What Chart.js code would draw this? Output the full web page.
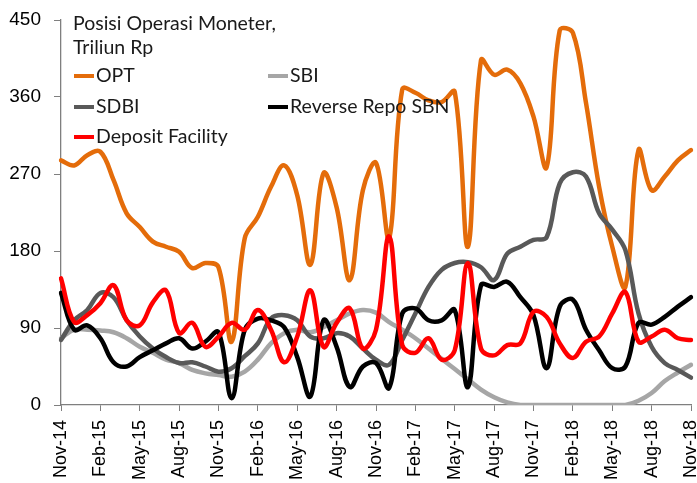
<!DOCTYPE html>
<html>
<head>
<meta charset="utf-8">
<script src="https://cdn.jsdelivr.net/npm/chart.js@4.4.1/dist/chart.umd.min.js"></script>
<style>
  html, body { margin: 0; padding: 0; background: #fff; }
  #wadah { width: 697px; height: 483px; }
</style>
</head>
<body>
<div id="wadah"><canvas id="grafik-om"></canvas></div>
<script>
// DATA GRAFIK (Triliun Rp, bulanan Nov-14 s.d. Nov-18)
const bulan = [
    'Nov-14', 'Dec-14', 'Jan-15', 'Feb-15', 'Mar-15', 'Apr-15', 'May-15', 'Jun-15', 'Jul-15', 'Aug-15', 'Sep-15', 'Oct-15',
    'Nov-15', 'Dec-15', 'Jan-16', 'Feb-16', 'Mar-16', 'Apr-16', 'May-16', 'Jun-16', 'Jul-16', 'Aug-16', 'Sep-16', 'Oct-16',
    'Nov-16', 'Dec-16', 'Jan-17', 'Feb-17', 'Mar-17', 'Apr-17', 'May-17', 'Jun-17', 'Jul-17', 'Aug-17', 'Sep-17', 'Oct-17',
    'Nov-17', 'Dec-17', 'Jan-18', 'Feb-18', 'Mar-18', 'Apr-18', 'May-18', 'Jun-18', 'Jul-18', 'Aug-18', 'Sep-18', 'Oct-18',
    'Nov-18'
];

const opt = [286, 280, 292, 296, 263, 224, 208, 191, 185, 179, 160, 166, 161, 74, 195, 220, 255, 280, 245, 164, 271, 231, 146, 251,
    283, 195, 369, 365, 356, 354, 366, 185, 403, 386, 392, 376, 337, 278, 438, 435, 353, 255, 185, 138, 298, 251, 267, 286, 298];
const sbi = [78, 88, 88, 87, 85, 78, 68, 61, 53, 49, 41, 37, 35, 33, 39, 53, 72, 84, 88, 85, 91, 99, 107, 111,
    108, 97, 88, 78, 66, 54, 42, 30, 18, 9, 3, 0, 0, 0, 0, 0, 0, 0, 0, 0, 5, 14, 28, 38, 47];
const sdbi = [76, 99, 111, 131, 126, 99, 80, 66, 56, 49, 50, 45, 39, 43, 57, 72, 101, 105, 99, 80, 78, 84, 80, 66,
    53, 47, 76, 107, 138, 158, 166, 167, 161, 146, 177, 185, 193, 196, 259, 272, 267, 224, 205, 181, 107, 68, 49, 41, 32];
const reverseRepo = [131, 88, 93, 78, 50, 45, 56, 64, 72, 78, 66, 74, 85, 8, 88, 101, 99, 91, 56, 10, 99, 68, 21, 45,
    49, 20, 107, 113, 99, 99, 111, 21, 140, 138, 144, 126, 105, 43, 115, 123, 88, 64, 43, 45, 96, 94, 103, 115, 126];
const depositFacility = [148, 97, 105, 119, 140, 99, 93, 120, 134, 84, 96, 68, 80, 96, 88, 111, 88, 50, 80, 134, 68, 96, 113, 66,
    88, 197, 70, 61, 78, 53, 64, 166, 66, 58, 70, 72, 109, 103, 72, 55, 74, 80, 107, 132, 74, 80, 88, 78, 76];

const ticksY = [0, 90, 180, 270, 360, 450];

const FONT_TEKS = 'Lato, "Open Sans", sans-serif';
const FONT_SUMBU = '"Liberation Sans", Arial, sans-serif';

// LEGENDA + JUDUL DI DALAM AREA GRAFIK
const legendaManual = {
    id: 'legendaManual',
    afterDraw(chart) {
        const ctx = chart.ctx;
        ctx.save();
        ctx.fillStyle = '#1a1a1a';
        ctx.font = '19.5px ' + FONT_TEKS;
        ctx.textBaseline = 'alphabetic';
        ctx.textAlign = 'left';
        ctx.fillText('Posisi Operasi Moneter,', 73, 30);
        ctx.fillText('Triliun Rp', 73, 54);

        // posisi tiap entri: [x garis, y garis]
        const posisi = [[74, 76], [268, 76], [74, 107], [268, 107], [74, 137]];
        chart.data.datasets.forEach((ds, i) => {
            const [x, y] = posisi[i];
            ctx.strokeStyle = ds.borderColor;
            ctx.lineWidth = 4;
            ctx.beginPath();
            ctx.moveTo(x, y);
            ctx.lineTo(x + 20, y);
            ctx.stroke();
            ctx.fillText(ds.label, x + 22, y + 6);
        });
        ctx.restore();
    }
};

function buatGrafik() {
    const ctx = document.getElementById('grafik-om').getContext('2d');

    const data = {
        labels: bulan,
        datasets: [
            { label: 'OPT', data: opt, borderColor: '#E46C0A', order: 5 },
            { label: 'SBI', data: sbi, borderColor: '#A6A6A6', order: 4 },
            { label: 'SDBI', data: sdbi, borderColor: '#595959', order: 3 },
            { label: 'Reverse Repo SBN', data: reverseRepo, borderColor: '#000000', order: 2 },
            { label: 'Deposit Facility', data: depositFacility, borderColor: '#FF0000', order: 1 }
        ]
    };

    const options = {
        responsive: true,
        maintainAspectRatio: false,
        animation: false,
        layout: { padding: { top: 20, right: 0, left: 0, bottom: 0 } },
        elements: {
            line: { borderWidth: 4.5, tension: 0.38, fill: false, borderCapStyle: 'round', borderJoinStyle: 'round' },
            point: { radius: 0 }
        },
        plugins: {
            legend: { display: false },
            tooltip: { enabled: false }
        },
        scales: {
            x: {
                grid: {
                    drawOnChartArea: false,
                    tickLength: 6,
                    color: (c) => (c.index % 3 === 0 ? '#7f7f7f' : 'rgba(0,0,0,0)')
                },
                border: { color: '#7f7f7f', width: 1.3 },
                ticks: {
                    autoSkip: false,
                    minRotation: 90,
                    maxRotation: 90,
                    padding: 9,
                    color: '#000',
                    font: { family: FONT_SUMBU, size: 18 },
                    callback: function (val, idx) { return idx % 3 === 0 ? this.getLabelForValue(val) : ''; }
                },
                afterFit: (s) => { s.height = 78; s.paddingRight = 6; s.paddingLeft = 0; }
            },
            y: {
                min: 0,
                max: 450,
                afterBuildTicks: (s) => { s.ticks = ticksY.map(v => ({ value: v })); },
                grid: { drawOnChartArea: false, tickLength: 7, color: '#7f7f7f' },
                border: { color: '#7f7f7f', width: 1.3 },
                ticks: {
                    padding: 13,
                    color: '#000',
                    font: { family: FONT_SUMBU, size: 19 }
                },
                afterFit: (s) => { s.width = 61; s.paddingTop = 0; s.paddingBottom = 0; }
            }
        }
    };

    new Chart(ctx, {
        type: 'line',
        data: data,
        options: options,
        plugins: [legendaManual]
    });
}

buatGrafik();
</script>
</body>
</html>
